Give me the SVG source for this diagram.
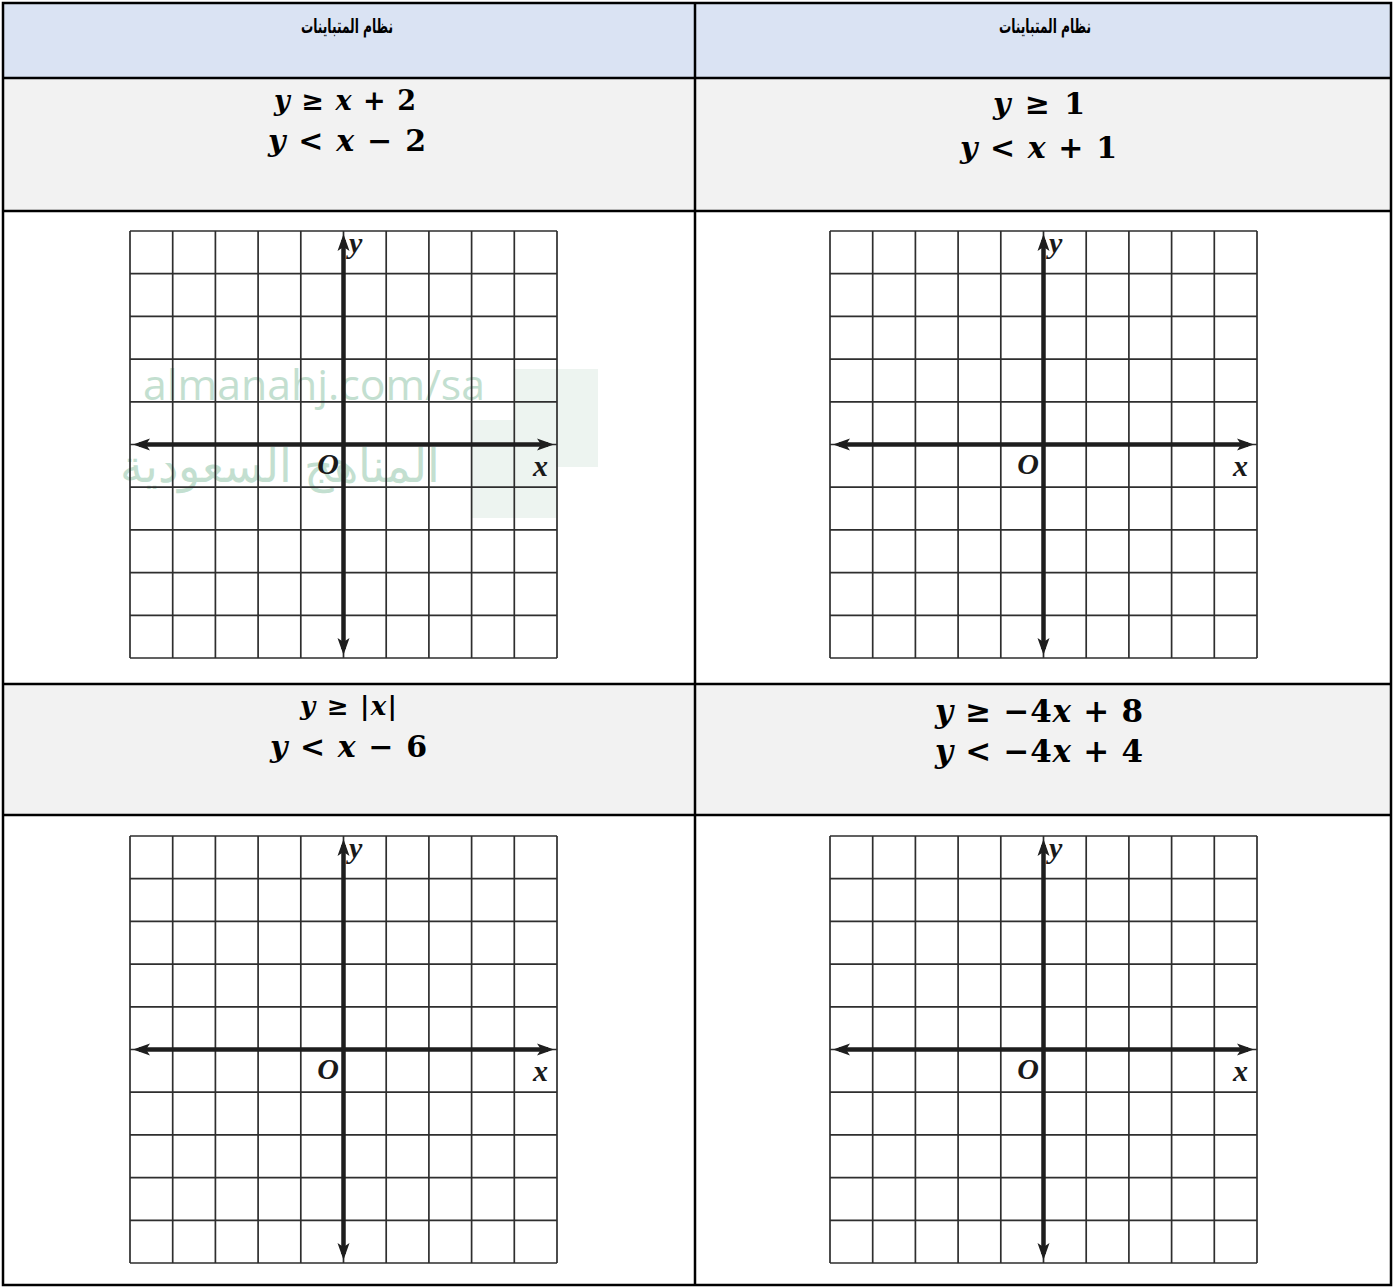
<svg xmlns="http://www.w3.org/2000/svg" xmlns:xlink="http://www.w3.org/1999/xlink" width="1397" height="1288" viewBox="0 0 1397 1288">
<style>
.hdr{fill:#dae3f3}
.eqc{fill:#f2f2f2}
.gc{fill:#ffffff}
.border{stroke:#000;stroke-width:2.5;fill:none}
.ht{font-family:"DejaVu Sans","Noto Sans",sans-serif;font-weight:bold;font-size:20px;fill:#000;text-anchor:middle}
.eq{font-family:"DejaVu Serif","Liberation Serif",serif;font-weight:bold;fill:#000}
.v{font-style:italic}
.gl{stroke:#2e2e2e;stroke-width:1.7;fill:none}
.ax{stroke:#1e1e1e;stroke-width:4.5;fill:none}
.lbl{font-family:"Liberation Serif","Times New Roman",serif;font-weight:bold;font-style:italic;font-size:30px;fill:#1a1a1a}
.wm{font-family:"Open Sans","Liberation Sans",sans-serif;fill:#c3dfd0}
.wmr{fill:#edf4f0}
</style>
<defs>
<marker id="ah" markerUnits="userSpaceOnUse" markerWidth="18" markerHeight="14" viewBox="0 -7 18 14" refX="11" refY="0" orient="auto-start-reverse">
<path d="M0,-6 L17,0 L0,6 L4,0 z" fill="#1e1e1e"/>
</marker>
<g id="graph">
<path class="gl" d="M0,0V427M42.7,0V427M85.4,0V427M128.1,0V427M170.8,0V427M213.5,0V427M256.2,0V427M298.9,0V427M341.6,0V427M384.3,0V427M427,0V427M0,0H427M0,42.7H427M0,85.4H427M0,128.1H427M0,170.8H427M0,213.5H427M0,256.2H427M0,298.9H427M0,341.6H427M0,384.3H427M0,427H427"/>
<line class="ax" x1="9" y1="213.5" x2="418" y2="213.5" marker-start="url(#ah)" marker-end="url(#ah)"/>
<line class="ax" x1="213.5" y1="9" x2="213.5" y2="418" marker-start="url(#ah)" marker-end="url(#ah)"/>
<text class="lbl" x="219" y="22">y</text>
<text class="lbl" x="209" y="243" text-anchor="end">O</text>
<text class="lbl" x="403" y="245">x</text>
</g>
</defs>

<g id="cell-header-left">
<rect class="hdr" x="3" y="3" width="692" height="75"/>
<text class="ht" x="347" y="33" textLength="92" lengthAdjust="spacingAndGlyphs">نظام المتباينات</text>
</g>
<g id="cell-header-right">
<rect class="hdr" x="695" y="3" width="696" height="75"/>
<text class="ht" x="1045" y="33" textLength="92" lengthAdjust="spacingAndGlyphs">نظام المتباينات</text>
</g>

<g id="cell-eq1-left">
<rect class="eqc" x="3" y="78" width="692" height="133"/>
<text class="eq" x="274" y="110" font-size="27" textLength="142" lengthAdjust="spacing"><tspan class="v">y</tspan> ≥ <tspan class="v">x</tspan> + 2</text>
<text class="eq" x="268" y="151" font-size="30" textLength="158" lengthAdjust="spacing"><tspan class="v">y</tspan> &lt; <tspan class="v">x</tspan> − 2</text>
</g>
<g id="cell-eq1-right">
<rect class="eqc" x="695" y="78" width="696" height="133"/>
<text class="eq" x="993" y="114" font-size="30" textLength="92" lengthAdjust="spacing"><tspan class="v">y</tspan> ≥ 1</text>
<text class="eq" x="960" y="158" font-size="30" textLength="157" lengthAdjust="spacing"><tspan class="v">y</tspan> &lt; <tspan class="v">x</tspan> + 1</text>
</g>

<g id="cell-graph1-left">
<rect class="gc" x="3" y="211" width="692" height="473"/>
<g id="watermark">
<rect class="wmr" x="515" y="369" width="83" height="98"/>
<rect class="wmr" x="472" y="420" width="84" height="98"/>
<text class="wm" x="143" y="400" font-size="42" textLength="342" lengthAdjust="spacingAndGlyphs">almanahj.com/sa</text>
<text class="wm" x="280" y="482" font-size="46" text-anchor="middle" direction="rtl">المناهج السعودية</text>
</g>
<use xlink:href="#graph" href="#graph" x="130" y="231"/>
</g>
<g id="cell-graph1-right">
<rect class="gc" x="695" y="211" width="696" height="473"/>
<use xlink:href="#graph" href="#graph" x="830" y="231"/>
</g>

<g id="cell-eq2-left">
<rect class="eqc" x="3" y="684" width="692" height="131"/>
<text class="eq" x="300" y="715" font-size="26" textLength="97" lengthAdjust="spacing"><tspan class="v">y</tspan> ≥ |<tspan class="v">x</tspan>|</text>
<text class="eq" x="270" y="757" font-size="30" textLength="157" lengthAdjust="spacing"><tspan class="v">y</tspan> &lt; <tspan class="v">x</tspan> − 6</text>
</g>
<g id="cell-eq2-right">
<rect class="eqc" x="695" y="684" width="696" height="131"/>
<text class="eq" x="935" y="722" font-size="31" textLength="208" lengthAdjust="spacing"><tspan class="v">y</tspan> ≥ −4<tspan class="v">x</tspan> + 8</text>
<text class="eq" x="935" y="762" font-size="31" textLength="208" lengthAdjust="spacing"><tspan class="v">y</tspan> &lt; −4<tspan class="v">x</tspan> + 4</text>
</g>

<g id="cell-graph2-left">
<rect class="gc" x="3" y="815" width="692" height="470"/>
<use xlink:href="#graph" href="#graph" x="130" y="836"/>
</g>
<g id="cell-graph2-right">
<rect class="gc" x="695" y="815" width="696" height="470"/>
<use xlink:href="#graph" href="#graph" x="830" y="836"/>
</g>

<g id="table-lines">
<rect class="border" x="3" y="3" width="1388" height="1282"/>
<line class="border" x1="695" y1="3" x2="695" y2="1285"/>
<line class="border" x1="3" y1="78" x2="1391" y2="78"/>
<line class="border" x1="3" y1="211" x2="1391" y2="211"/>
<line class="border" x1="3" y1="684" x2="1391" y2="684"/>
<line class="border" x1="3" y1="815" x2="1391" y2="815"/>
</g>
</svg>
